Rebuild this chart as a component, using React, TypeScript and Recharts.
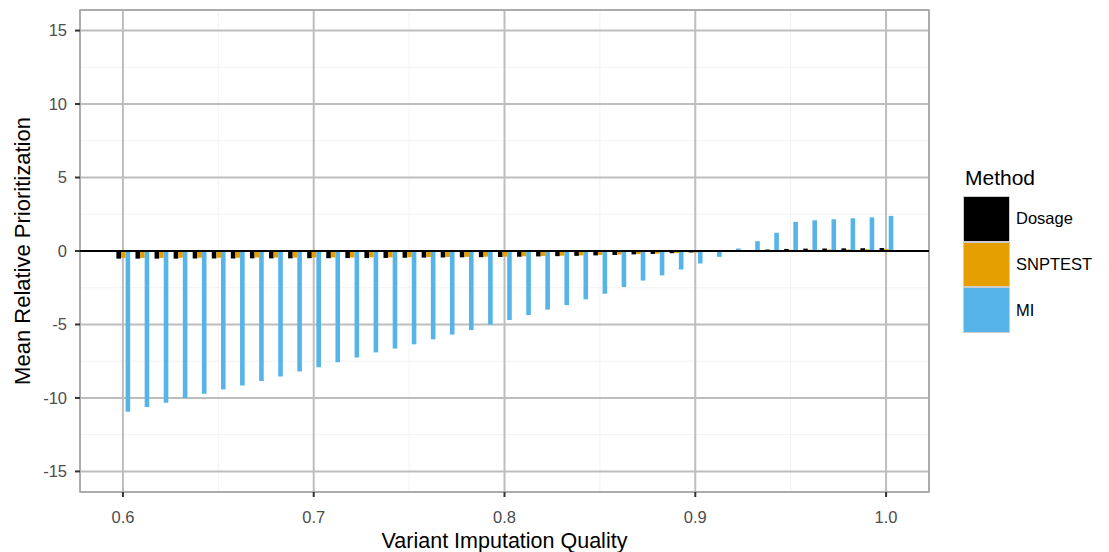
import React from 'react';
import {
  BarChart,
  Bar,
  XAxis,
  YAxis,
  CartesianGrid,
  ReferenceLine,
  ReferenceArea,
} from 'recharts';

// imputation quality bins
const quality = [
  0.6, 0.61, 0.62, 0.63, 0.64, 0.65, 0.66, 0.67, 0.68, 0.69,
  0.7, 0.71, 0.72, 0.73, 0.74, 0.75, 0.76, 0.77, 0.78, 0.79,
  0.8, 0.81, 0.82, 0.83, 0.84, 0.85, 0.86, 0.87, 0.88, 0.89,
  0.9, 0.91, 0.92, 0.93, 0.94, 0.95, 0.96, 0.97, 0.98, 0.99,
  1.0,
];

const dosage = [
  -0.52, -0.52, -0.52, -0.52, -0.51, -0.51, -0.51, -0.5, -0.5, -0.5,
  -0.49, -0.49, -0.48, -0.48, -0.47, -0.46, -0.45, -0.44, -0.43, -0.42,
  -0.41, -0.39, -0.37, -0.35, -0.33, -0.3, -0.27, -0.23, -0.2, -0.15,
  -0.1, -0.06, -0.02, 0.05, 0.1, 0.14, 0.16, 0.17, 0.18, 0.19,
  0.2,
];

const snptest = [
  -0.47, -0.47, -0.47, -0.46, -0.46, -0.46, -0.46, -0.45, -0.45, -0.45,
  -0.44, -0.44, -0.44, -0.43, -0.43, -0.42, -0.41, -0.41, -0.4, -0.39,
  -0.38, -0.36, -0.34, -0.32, -0.3, -0.27, -0.24, -0.21, -0.18, -0.14,
  -0.1, -0.06, -0.03, 0.02, 0.05, 0.08, 0.09, 0.1, 0.11, 0.12,
  0.13,
];

const mi = [
  -10.94, -10.62, -10.33, -10.01, -9.72, -9.42, -9.15, -8.84, -8.54, -8.2,
  -7.91, -7.57, -7.25, -6.9, -6.64, -6.35, -6.01, -5.69, -5.38, -5.01,
  -4.7, -4.36, -3.99, -3.68, -3.29, -2.91, -2.45, -2.01, -1.66, -1.26,
  -0.85, -0.4, 0.17, 0.67, 1.24, 1.98, 2.09, 2.16, 2.23, 2.29,
  2.39,
];

const xTicks = [0.6, 0.7, 0.8, 0.9, 1.0];
const xMinor = [0.65, 0.75, 0.85, 0.95];
const yTicks = [-15, -10, -5, 0, 5, 10, 15];
const yMinor = [-12.5, -7.5, -2.5, 2.5, 7.5, 12.5];

const methods = [
  { key: 'dosage', name: 'Dosage', color: '#000000' },
  { key: 'snptest', name: 'SNPTEST', color: '#E69F00' },
  { key: 'mi', name: 'MI', color: '#56B4E9' },
];

const data = quality.map((q, i) => ({
  q,
  dosage: dosage[i],
  snptest: snptest[i],
  mi: mi[i],
}));

const FONT = '"Liberation Sans", Arial, Helvetica, sans-serif';
const X_DOMAIN: [number, number] = [0.5775, 1.0225];
const Y_DOMAIN: [number, number] = [-16.4, 16.4];

function MethodLegend() {
  return (
    <div style={{ position: 'absolute', left: 963, top: 164, fontFamily: FONT }}>
      <div style={{ fontSize: 21, color: '#000', marginLeft: 2, height: 32, lineHeight: '28px' }}>
        Method
      </div>
      {methods.map((m) => (
        <div key={m.key} style={{ display: 'flex', alignItems: 'center', height: 45.7 }}>
          <div
            style={{
              width: 45,
              height: 43.7,
              background: m.color,
              border: '1px solid #cccccc',
            }}
          />
          <span style={{ fontSize: 16.5, color: '#000', marginLeft: 6 }}>{m.name}</span>
        </div>
      ))}
    </div>
  );
}

export default function App() {
  return (
    <div style={{ position: 'absolute', left: 0, top: 0, width: 1109, height: 552, background: '#fff', overflow: 'hidden' }}>
      <BarChart
        width={1109}
        height={552}
        data={data}
        margin={{ top: 10, right: 180, bottom: 0, left: 0 }}
        barGap={0}
        style={{ fontFamily: FONT }}
      >
        <CartesianGrid
          stroke="#f2f2f2"
          strokeWidth={1}
          horizontalValues={yMinor}
          verticalValues={xMinor}
        />
        <CartesianGrid stroke="#bdbdbd" strokeWidth={2} />
        <XAxis
          dataKey="q"
          type="number"
          domain={X_DOMAIN}
          allowDataOverflow
          ticks={xTicks}
          tickFormatter={(v: number) => v.toFixed(1)}
          height={60}
          axisLine={false}
          tickSize={5}
          tickMargin={14}
          tickLine={{ stroke: '#333333', strokeWidth: 2 }}
          tick={{ fill: '#4d4d4d', fontSize: 16.5 }}
          label={{
            content: ({ viewBox }: any) => (
              <text
                x={viewBox.x + viewBox.width / 2}
                y={viewBox.y + 56}
                textAnchor="middle"
                fontSize={21.5}
                fill="#000"
                fontFamily={FONT}
              >
                Variant Imputation Quality
              </text>
            ),
          }}
        />
        <YAxis
          type="number"
          domain={Y_DOMAIN}
          allowDataOverflow
          ticks={yTicks}
          width={80}
          axisLine={false}
          tickSize={5}
          tickMargin={8}
          tickLine={{ stroke: '#333333', strokeWidth: 2 }}
          tick={{ fill: '#4d4d4d', fontSize: 16.5 }}
          label={{
            content: ({ viewBox }: any) => {
              const cx = viewBox.x + 22;
              const cy = viewBox.y + viewBox.height / 2;
              return (
                <text
                  x={cx}
                  y={cy}
                  transform={`rotate(-90, ${cx}, ${cy})`}
                  textAnchor="middle"
                  dominantBaseline="central"
                  fontSize={22}
                  fill="#000"
                  fontFamily={FONT}
                >
                  Mean Relative Prioritization
                </text>
              );
            },
          }}
        />
        {methods.map((m) => (
          <Bar
            key={m.key}
            dataKey={m.key}
            name={m.name}
            fill={m.color}
            barSize={4.6}
            isAnimationActive={false}
          />
        ))}
        <ReferenceLine y={0} stroke="#000" strokeWidth={2} />
        <ReferenceArea
          x1={X_DOMAIN[0]}
          x2={X_DOMAIN[1]}
          y1={Y_DOMAIN[0]}
          y2={Y_DOMAIN[1]}
          fill="none"
          fillOpacity={0}
          stroke="#a6a6a6"
          strokeWidth={1.5}
          ifOverflow="visible"
        />
      </BarChart>
      <MethodLegend />
    </div>
  );
}
